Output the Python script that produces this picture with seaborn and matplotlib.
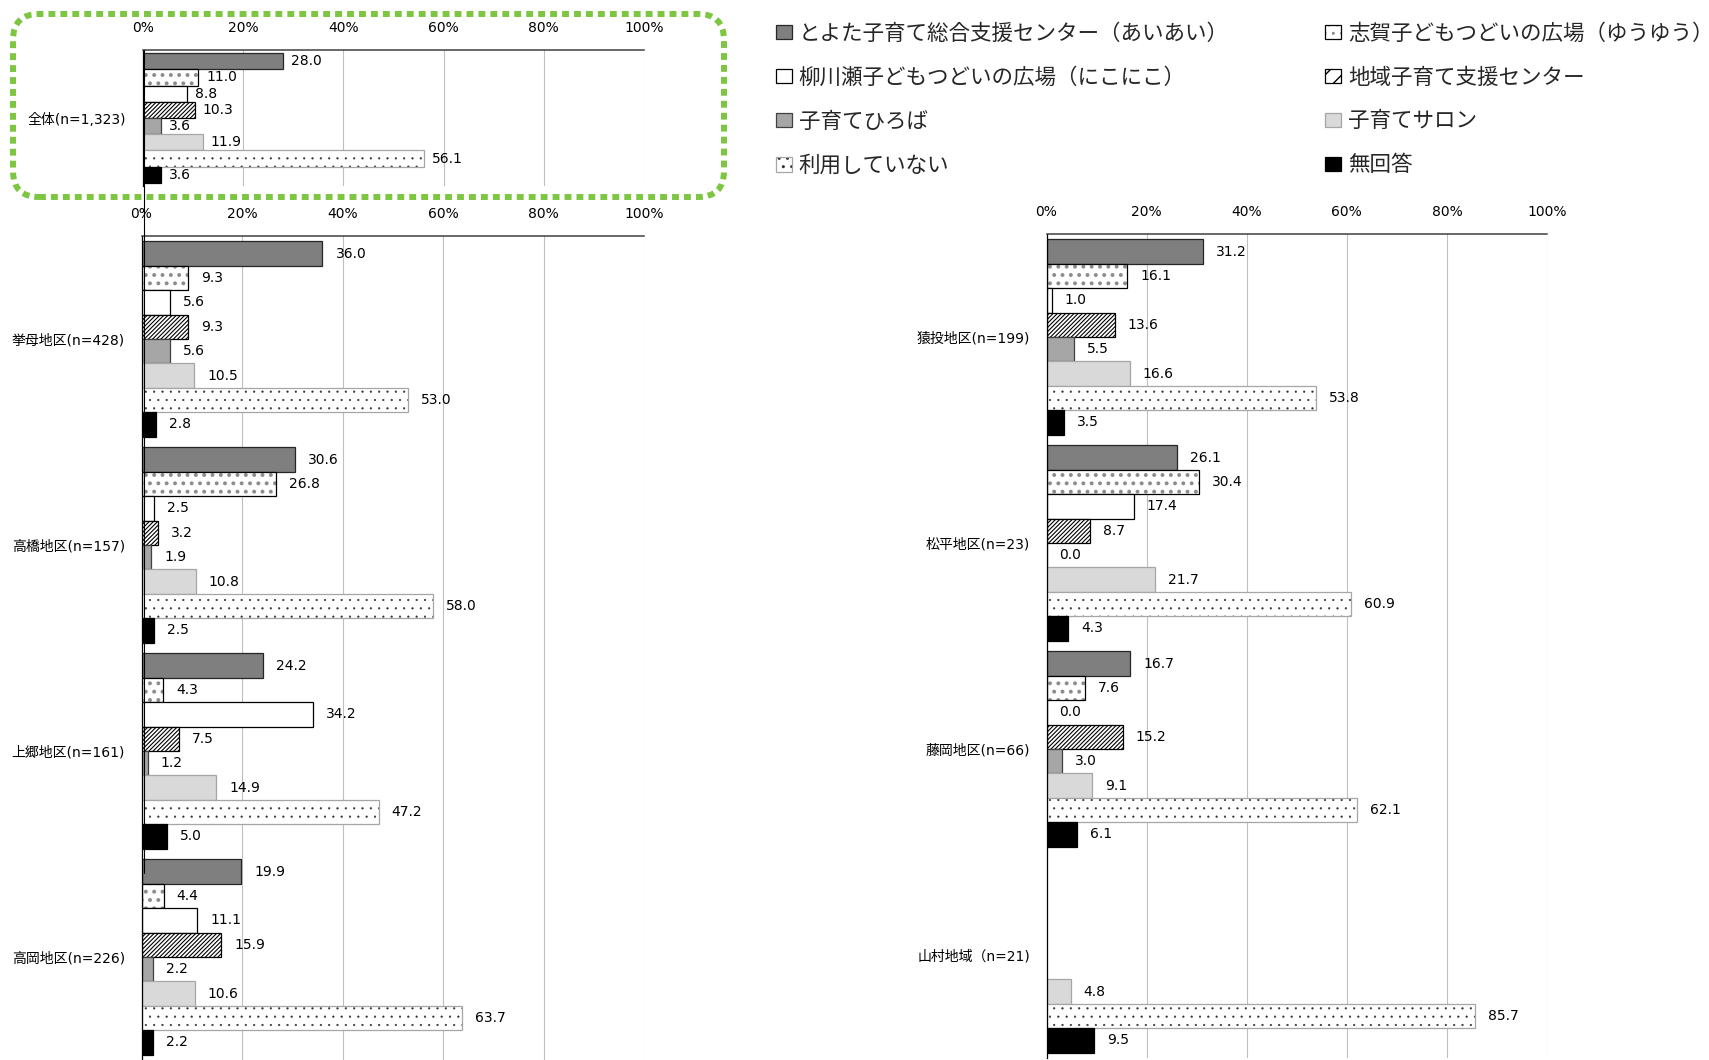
import numpy as np
import pandas as pd
import matplotlib
matplotlib.use('Agg')
import matplotlib.pyplot as plt
import seaborn as sns
from matplotlib.patches import Patch, FancyBboxPatch
from matplotlib.lines import Line2D
from matplotlib.transforms import IdentityTransform

sns.set_theme(style='white')
plt.rcParams['font.family'] = ['DejaVu Sans', 'Noto Sans CJK JP']
plt.rcParams['hatch.linewidth'] = 1.0

W, H = 1709, 1060

services = ['とよた子育て総合支援センター（あいあい）', '志賀子どもつどいの広場（ゆうゆう）',
            '柳川瀬子どもつどいの広場（にこにこ）', '地域子育て支援センター',
            '子育てひろば', '子育てサロン', '利用していない', '無回答']

areas_total = ['全体(n=1,323)']
areas_left = ['挙母地区(n=428)', '高橋地区(n=157)', '上郷地区(n=161)', '高岡地区(n=226)']
areas_right = ['猿投地区(n=199)', '松平地区(n=23)', '藤岡地区(n=66)', '山村地域（n=21)']

total_vals = [28.0, 11.0, 8.8, 10.3, 3.6, 11.9, 56.1, 3.6]
kyomo = [36.0, 9.3, 5.6, 9.3, 5.6, 10.5, 53.0, 2.8]
takahashi = [30.6, 26.8, 2.5, 3.2, 1.9, 10.8, 58.0, 2.5]
kamigo = [24.2, 4.3, 34.2, 7.5, 1.2, 14.9, 47.2, 5.0]
takaoka = [19.9, 4.4, 11.1, 15.9, 2.2, 10.6, 63.7, 2.2]
sanage = [31.2, 16.1, 1.0, 13.6, 5.5, 16.6, 53.8, 3.5]
matsudaira = [26.1, 30.4, 17.4, 8.7, 0.0, 21.7, 60.9, 4.3]
fujioka = [16.7, 7.6, 0.0, 15.2, 3.0, 9.1, 62.1, 6.1]
sanson = [np.nan, np.nan, np.nan, np.nan, np.nan, 4.8, 85.7, 9.5]

ticks = [0, 20, 40, 60, 80, 100]
tick_labels = ['0%', '20%', '40%', '60%', '80%', '100%']

face_colors = ['#7f7f7f', 'white', 'white', 'white', '#a6a6a6', '#d9d9d9', 'white', 'black']
edge_colors = ['#262626', '#000000', '#000000', '#000000', '#404040', '#a6a6a6', '#a6a6a6', '#000000']
hatches = [None, '..', None, '////////', None, None, '..', None]
hatch_colors = [None, '#8c8c8c', None, '#000000', None, None, '#333333', None]
hatch_lw = [1.0, 1.6, 1.0, 0.8, 1.0, 1.0, 0.35, 1.0]


def make_df(areas, rows):
    recs = []
    for a, vals in zip(areas, rows):
        for s, v in zip(services, vals):
            if not np.isnan(v):
                recs.append({'area': a, 'service': s, 'value': v})
    return pd.DataFrame(recs)


def style_patch(p, i):
    p.set_facecolor(face_colors[i])
    p.set_edgecolor(edge_colors[i])
    p.set_linewidth(0.9)
    if hatches[i]:
        p.set_hatch(hatches[i])
        p._hatch_color = matplotlib.colors.to_rgba(hatch_colors[i])
        if hasattr(p, 'set_hatch_linewidth'):
            p.set_hatch_linewidth(hatch_lw[i])


def px_rect(left, top, right, bottom):
    return [left / W, 1 - bottom / H, (right - left) / W, (bottom - top) / H]


def draw_panel(ax, df, order, width, label_pad):
    sns.barplot(data=df, x='value', y='area', hue='service', order=order,
                hue_order=services, orient='h', width=width, dodge=True,
                errorbar=None, saturation=1, palette=face_colors, legend=False, ax=ax)
    for i, cont in enumerate(ax.containers):
        for p in cont.patches:
            style_patch(p, i)
        labels = [f'{v:.1f}' for v in cont.datavalues]
        ax.bar_label(cont, labels=labels, padding=label_pad, fontsize=10, color='black')
    ax.set_xlim(0, 100)
    ax.set_ylim(len(order) - 0.5, -0.5)
    ax.xaxis.tick_top()
    ax.set_xticks(ticks)
    ax.set_xticklabels(tick_labels)
    ax.tick_params(axis='x', length=0, pad=11, labelsize=10, labelcolor='black')
    ax.tick_params(axis='y', length=0, pad=12, labelsize=10, labelcolor='black')
    ax.set_xlabel('')
    ax.set_ylabel('')
    ax.grid(axis='x', color='#bfbfbf', lw=0.8)
    ax.grid(axis='y', visible=False)
    ax.set_axisbelow(True)
    for side in ['right', 'bottom']:
        ax.spines[side].set_visible(False)
    ax.spines['top'].set_color('#404040')
    ax.spines['top'].set_linewidth(1.1)
    ax.spines['left'].set_color('black')
    ax.spines['left'].set_linewidth(0.9)


fig = plt.figure(figsize=(W / 100, H / 100), dpi=100)

ax_top = fig.add_axes(px_rect(143, 50, 644, 186))
draw_panel(ax_top, make_df(areas_total, [total_vals]), areas_total, 0.955, 5.8)

ax_left = fig.add_axes(px_rect(141.5, 236, 644, 1060))
draw_panel(ax_left, make_df(areas_left, [kyomo, takahashi, kamigo, takaoka]), areas_left, 0.947, 9.4)

ax_right = fig.add_axes(px_rect(1046.5, 234, 1547, 1058))
draw_panel(ax_right, make_df(areas_right, [sanage, matsudaira, fujioka, sanson]), areas_right, 0.947, 9.4)

# long left line of the overall panel
fig.add_artist(Line2D([143.5, 143.5], [H - 50, H - 873], transform=IdentityTransform(),
                      color='black', lw=0.8))

# green dotted highlight around the overall panel
box = FancyBboxPatch((13, H - 197), 711, 183, boxstyle='round,pad=0,rounding_size=26',
                     transform=IdentityTransform(), fill=False, edgecolor='#7dc642',
                     linewidth=4.3, linestyle=(0, (1.15, 0.85)), capstyle='butt')
fig.add_artist(box)

# legend, row-major order like the reference
handles = []
for i in range(len(services)):
    h = Patch(facecolor=face_colors[i], edgecolor=edge_colors[i],
              hatch=hatches[i][:2] if hatches[i] else None, linewidth=0.9)
    if hatches[i]:
        h._hatch_color = matplotlib.colors.to_rgba(hatch_colors[i])
        if hasattr(h, 'set_hatch_linewidth'):
            h.set_hatch_linewidth(hatch_lw[i])
    handles.append(h)
order_idx = [0, 2, 4, 6, 1, 3, 5, 7]
fig.legend([handles[i] for i in order_idx], [services[i] for i in order_idx], ncols=2,
           loc='upper left', bbox_to_anchor=(776 / W, 1 - 23 / H), frameon=False,
           fontsize=15.5, handlelength=0.73, handleheight=0.64, handletextpad=0.32,
           columnspacing=4.5, labelspacing=1.10, borderpad=0, borderaxespad=0)

fig.savefig('out.png', dpi=100)
